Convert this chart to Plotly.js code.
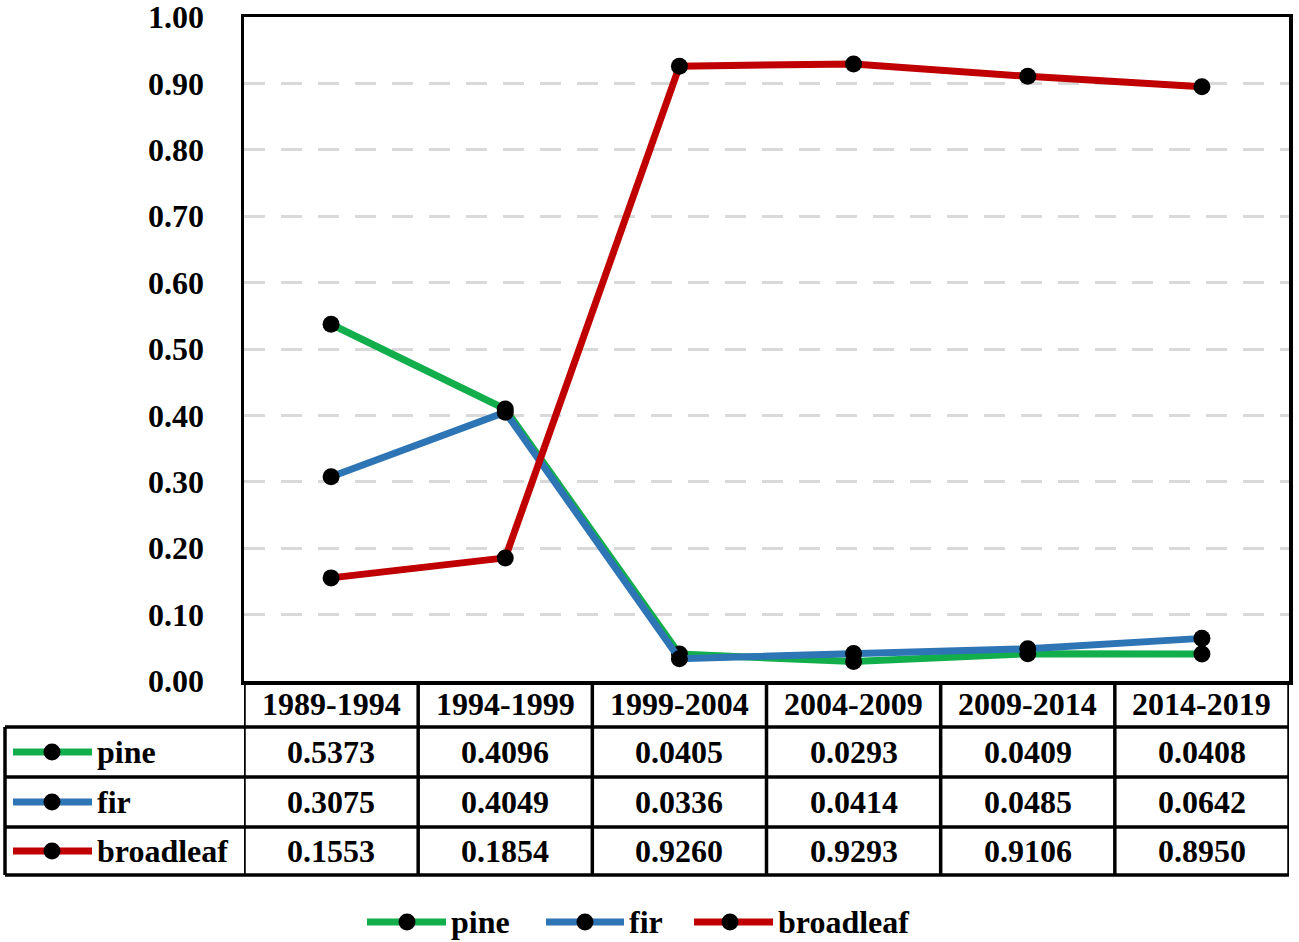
<!DOCTYPE html>
<html>
<head>
<meta charset="utf-8">
<script src="https://cdn.plot.ly/plotly-3.0.1.min.js"></script>
<style>html,body{margin:0;padding:0;background:#fff;}#chart{width:1299px;height:942px;}</style>
</head>
<body>
<div id="chart"></div>
<script>
// ---- data ----
var categories = ['1989-1994', '1994-1999', '1999-2004', '2004-2009', '2009-2014', '2014-2019'];
var seriesNames = ['pine', 'fir', 'broadleaf'];
var pine = [0.5373, 0.4096, 0.0405, 0.0293, 0.0409, 0.0408];
var fir = [0.3075, 0.4049, 0.0336, 0.0414, 0.0485, 0.0642];
var broadleaf = [0.1553, 0.1854, 0.9260, 0.9293, 0.9106, 0.8950];
var yTickVals = [0, 0.1, 0.2, 0.3, 0.4, 0.5, 0.6, 0.7, 0.8, 0.9, 1.0];

// ---- style ----
var colors = {pine: '#12AE4C', fir: '#2E75B6', broadleaf: '#C00000'};
var FONT = 'Liberation Serif, Times New Roman, serif';
var FS = 32;
var W = 1299, H = 942;
var M = {l: 244, r: 10, t: 17, b: 261};
var PW = W - M.l - M.r, PH = H - M.t - M.b;
function px(xp) { return (xp - M.l) / PW; }
function py(yp) { return (H - M.b - yp) / PH; }

var seriesData = {pine: pine, fir: fir, broadleaf: broadleaf};

var traces = seriesNames.map(function (name) {
  return {
    type: 'scatter', mode: 'lines+markers', name: name,
    x: categories, y: seriesData[name],
    line: {color: colors[name], width: 7},
    marker: {color: '#000', size: 17},
    showlegend: false, hoverinfo: 'x+y'
  };
});

var shapes = [];
var annotations = [];
var lineBlack = {color: '#000', width: 3.5};

// table geometry (pixel rows)
var rowTops = [727, 777, 827];
var rowBottom = 875;
var headerTop = H - M.b;
var tableLeft = 5;

// horizontal table lines
[727, 777, 827, 875].forEach(function (yp) {
  shapes.push({type: 'line', xref: 'paper', yref: 'paper', x0: px(tableLeft), x1: 1, y0: py(yp), y1: py(yp), line: lineBlack});
});
// vertical table lines (category boundaries)
for (var i = 0; i <= categories.length; i++) {
  shapes.push({type: 'line', xref: 'x', yref: 'paper', x0: i - 0.5, x1: i - 0.5, y0: py(headerTop), y1: py(rowBottom), line: lineBlack});
}
shapes.push({type: 'line', xref: 'paper', yref: 'paper', x0: px(tableLeft), x1: px(tableLeft), y0: py(727), y1: py(rowBottom), line: lineBlack});

var boldFont = {family: FONT, size: FS, color: '#000', weight: 'bold'};

// header labels
categories.forEach(function (c) {
  annotations.push({xref: 'x', yref: 'paper', x: c, y: py((headerTop + 727) / 2), text: c, showarrow: false,
    font: boldFont, xanchor: 'center', yanchor: 'middle'});
});

function legendSymbol(x0, x1, xm, yc, color) {
  shapes.push({type: 'line', xref: 'paper', yref: 'paper', x0: px(x0), x1: px(x1), y0: py(yc), y1: py(yc), line: {color: color, width: 7}});
  shapes.push({type: 'circle', xref: 'paper', yref: 'paper', xsizemode: 'pixel', ysizemode: 'pixel',
    xanchor: px(xm), yanchor: py(yc), x0: -8.5, x1: 8.5, y0: -8.5, y1: 8.5, fillcolor: '#000', line: {width: 0}});
}

// table rows
seriesNames.forEach(function (name, r) {
  var yc = (rowTops[r] + (r < 2 ? rowTops[r + 1] : rowBottom)) / 2;
  legendSymbol(13, 92, 52, yc, colors[name]);
  annotations.push({xref: 'paper', yref: 'paper', x: px(95), y: py(yc), text: name, showarrow: false,
    font: boldFont, xanchor: 'left', yanchor: 'middle'});
  seriesData[name].forEach(function (v, j) {
    annotations.push({xref: 'x', yref: 'paper', x: categories[j], y: py(yc), text: v.toFixed(4), showarrow: false,
      font: boldFont, xanchor: 'center', yanchor: 'middle'});
  });
});

// bottom legend
var legPos = {pine: [367, 446, 407, 449], fir: [546, 624, 585, 627], broadleaf: [694, 773, 730, 776]};
var legY = 922;
seriesNames.forEach(function (name) {
  var p = legPos[name];
  legendSymbol(p[0], p[1], p[2], legY, colors[name]);
  annotations.push({xref: 'paper', yref: 'paper', x: px(p[3]), y: py(legY), text: name, showarrow: false,
    font: boldFont, xanchor: 'left', yanchor: 'middle'});
});

var layout = {
  width: W, height: H,
  margin: M,
  paper_bgcolor: '#fff', plot_bgcolor: '#fff',
  showlegend: false,
  font: {family: FONT, size: FS, color: '#000'},
  xaxis: {
    type: 'category', range: [-0.5, 5.5], showticklabels: false, ticks: '',
    showgrid: false, zeroline: false, showline: true, mirror: true, linecolor: '#000', linewidth: 3.5,
    fixedrange: true
  },
  yaxis: {
    range: [0, 1], tickvals: yTickVals, tickformat: '.2f', ticks: '',
    ticklabelstandoff: 30, ticklabeloverflow: 'allow',
    tickfont: boldFont,
    showgrid: true, gridcolor: '#D9D9D9', gridwidth: 3, griddash: '21px,16px',
    zeroline: false, showline: true, mirror: true, linecolor: '#000', linewidth: 3.5,
    fixedrange: true
  },
  shapes: shapes,
  annotations: annotations
};

Plotly.newPlot('chart', traces, layout, {displayModeBar: false, staticPlot: true});
</script>
</body>
</html>
